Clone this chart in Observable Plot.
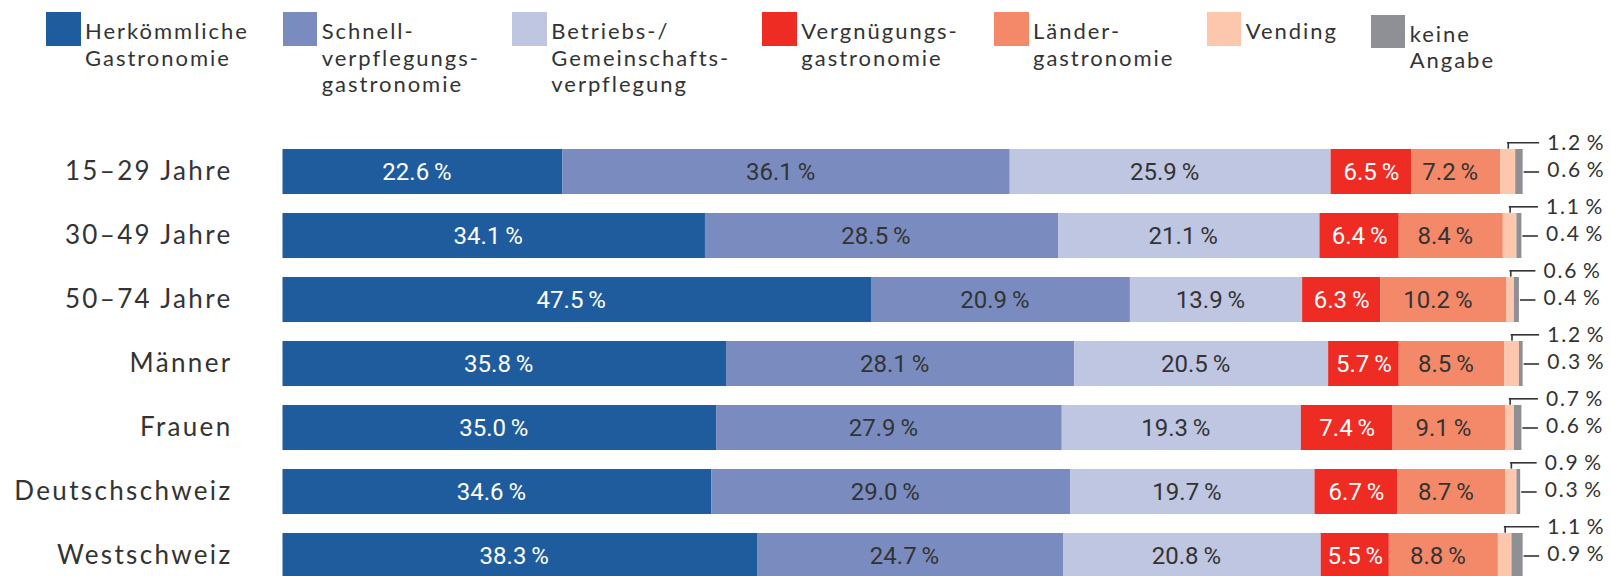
<!DOCTYPE html>
<html><head><meta charset="utf-8">
<script src="https://cdn.jsdelivr.net/npm/d3@7"></script>
<script src="https://cdn.jsdelivr.net/npm/@observablehq/plot@0.6"></script>
<style>
html,body{margin:0;padding:0;background:#fff;width:1611px;height:576px;overflow:hidden;}
#legend{position:relative;height:125px;font-family:Lato,sans-serif;font-size:22px;letter-spacing:0.09em;color:#333;line-height:26.5px;}
.sw{position:absolute;width:34.5px;height:33.5px;}
.lt{position:absolute;white-space:pre;}
#chart svg{display:block;}
</style></head><body>
<div id="legend"></div>
<div id="chart"></div>
<script>
// ---- data ----
const groups = ["15–29 Jahre","30–49 Jahre","50–74 Jahre","Männer","Frauen","Deutschschweiz","Westschweiz"];
const categories = ["Herkömmliche Gastronomie","Schnellverpflegungsgastronomie","Betriebs-/Gemeinschaftsverpflegung","Vergnügungsgastronomie","Ländergastronomie","Vending","keine Angabe"];
const legendLabels = ["Herkömmliche\nGastronomie","Schnell-\nverpflegungs-\ngastronomie","Betriebs-/\nGemeinschafts-\nverpflegung","Vergnügungs-\ngastronomie","Länder-\ngastronomie","Vending","keine\nAngabe"];
const herkoemmlich = [22.6,34.1,47.5,35.8,35.0,34.6,38.3];
const schnell      = [36.1,28.5,20.9,28.1,27.9,29.0,24.7];
const betrieb      = [25.9,21.1,13.9,20.5,19.3,19.7,20.8];
const vergnuegung  = [6.5,6.4,6.3,5.7,7.4,6.7,5.5];
const laender      = [7.2,8.4,10.2,8.5,9.1,8.7,8.8];
const vending      = [1.2,1.1,0.6,1.2,0.7,0.9,1.1];
const keineAngabe  = [0.6,0.4,0.4,0.3,0.6,0.3,0.9];

// ---- styles / layout ----
const colors = ["#1f5c9e","#7a8cbf","#bfc6e1","#ee2c24","#f4896a","#fdc7ae","#8f9095"];
const labelFill = ["#fff","#333","#333","#fff","#333"];
const legendX = [46, 282.7, 512.3, 762.3, 994, 1206.7, 1370.7];
const legendDy = [0,0,0,0,0,0,2.5];

// legend
const lg = document.getElementById("legend");
categories.forEach((c, i) => {
  const s = document.createElement("div");
  s.className = "sw"; s.style.left = legendX[i] + "px"; s.style.background = colors[i];
  s.style.top = (12.3 + legendDy[i]) + "px";
  lg.appendChild(s);
  const t = document.createElement("div");
  t.className = "lt"; t.style.left = (legendX[i] + 39) + "px";
  t.style.top = (18 + legendDy[i]) + "px";
  t.textContent = legendLabels[i];
  lg.appendChild(t);
});

// table
const series = [herkoemmlich, schnell, betrieb, vergnuegung, laender, vending, keineAngabe];
const rows = [];
const brackets = [];
groups.forEach((g, gi) => {
  let acc = 0;
  const segs = {};
  series.forEach((s, ci) => {
    const v = s[gi];
    rows.push({group: g, cat: categories[ci], ci, value: v, start: acc, end: acc + v, mid: acc + v / 2});
    segs[ci] = {start: acc, end: acc + v};
    acc += v;
  });
  brackets.push({group: g, vendMid: (segs[5].start + segs[5].end) / 2, total: acc, vend: vending[gi], keine: keineAngabe[gi]});
});

const fmt = v => v.toFixed(1) + "\u2009%";
const step = 64.8, bw = step * 0.7;
const lineUp = 6.5;

const chart = Plot.plot({
  width: 1611, height: 451,
  marginLeft: 282.5, marginRight: 89.6, marginTop: 0, marginBottom: 0,
  x: {domain: [0, 100], axis: null},
  y: {domain: groups, range: [12, 465.6], paddingInner: 0.3, paddingOuter: 0.15, align: 0.5, axis: null},
  color: {domain: categories, range: colors},
  style: {fontFamily: "Lato, sans-serif", color: "#333", background: "#fff"},
  marks: [
    Plot.barX(rows, {x1: "start", x2: "end", y: "group", fill: "cat"}),
    Plot.text(rows.filter(d => d.ci < 5 && d.ci !== 3), {x: "mid", y: "group", dx: -6, text: d => fmt(d.value), fill: d => labelFill[d.ci], fontFamily: "Roboto", fontSize: 24}),
    Plot.text(rows.filter(d => d.ci === 3), {x: "mid", y: "group", text: d => fmt(d.value), fill: "#fff", fontFamily: "Roboto", fontSize: 24}),
    Plot.text(groups, {y: d => d, frameAnchor: "left", dx: -50.5, textAnchor: "end", fontSize: 26, fill: "#333", fontFamily: "Lato"}),
    Plot.tickX(brackets, {x: "vendMid", y: "group", insetTop: -lineUp, insetBottom: bw, stroke: "#333", strokeWidth: 1.6}),
    Plot.ruleY(brackets, {y: "group", x1: "vendMid", x2: "total", insetLeft: -0.8, insetRight: -16.5, dy: -(bw / 2 + lineUp), stroke: "#333", strokeWidth: 1.6}),
    Plot.ruleY(brackets, {y: "group", x1: "total", x2: "total", insetLeft: 1, insetRight: -16.5, stroke: "#333", strokeWidth: 1.6}),
    Plot.text(brackets, {x: "total", y: "group", dx: 24, dy: -(bw / 2 + lineUp), textAnchor: "start", text: d => fmt(d.vend), fontSize: 21, fill: "#333", fontFamily: "Lato"}),
    Plot.text(brackets, {x: "total", y: "group", dx: 24, dy: -2, textAnchor: "start", text: d => fmt(d.keine), fontSize: 21, fill: "#333", fontFamily: "Lato"})
  ]
});
d3.select(chart).selectAll('g[font-family="Lato"]').attr("letter-spacing", "0.09em");
document.getElementById("chart").appendChild(chart);
</script>
</body></html>
